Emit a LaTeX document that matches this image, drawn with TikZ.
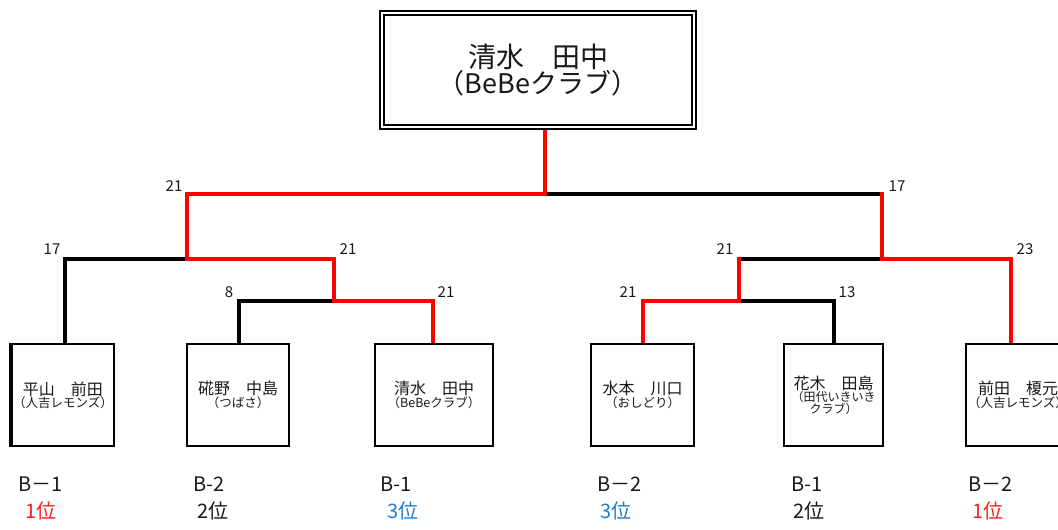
\documentclass[tikz,border=0pt]{standalone}
\usepackage{fontspec}
\setmainfont{Noto Sans CJK JP}
\usetikzlibrary{backgrounds}
\definecolor{winred}{RGB}{255,0,0}
\definecolor{rankred}{RGB}{255,30,30}
\definecolor{rankblue}{RGB}{30,125,210}
\definecolor{txt}{RGB}{25,25,25}
\tikzset{
  bracket/.style={line width=3.2pt, line join=miter, line cap=rect},
  winline/.style={bracket, draw=winred},
  loseline/.style={bracket, draw=black},
  teambox/.style={draw=black, line width=2.2pt, fill=white, inner sep=0pt, minimum height=102pt, text=txt, align=center},
  champbox/.style={draw=black, double=white, line width=1.8pt, double distance=1.8pt, fill=white, minimum width=312pt, minimum height=114pt, inner sep=0pt, text=txt, align=center},
  score/.style={font=\fontsize{15}{17}\selectfont, text=txt, inner sep=0pt},
  grp/.style={font=\fontsize{20}{22}\selectfont, text=txt, anchor=west, inner sep=0pt},
  rank/.style={font=\fontsize{20}{22}\selectfont, anchor=west, inner sep=0pt},
}
\newcommand{\teamtext}[2]{{\fontsize{16}{19}\selectfont #1}\\{\fontsize{12.5}{19}\selectfont #2}}
\begin{document}
\begin{tikzpicture}[x=1pt,y=-1pt]
\useasboundingbox (0,0) rectangle (1058,530);
% champion
\node[champbox] (top) at (538,70) {{\fontsize{28}{32}\selectfont 清水　田中}\\{\fontsize{27}{32}\selectfont （BeBeクラブ）}};
% teams
\node[teambox, minimum width=102pt] (b1) at (63,395) {\teamtext{平山　前田}{（人吉レモンズ）}};
\node[teambox, minimum width=102pt] (b2) at (238,395) {\teamtext{硴野　中島}{（つばさ）}};
\node[teambox, minimum width=118pt] (b3) at (434,395) {\teamtext{清水　田中}{（BeBeクラブ）}};
\node[teambox, minimum width=103pt] (b4) at (642.5,395) {\teamtext{水本　川口}{（おしどり）}};
\node[teambox, minimum width=99pt] (b5) at (833.5,395) {{\fontsize{16}{19}\selectfont 花木　田島}\\{\fontsize{12}{19}\selectfont （田代いきいき}\\{\fontsize{12}{19}\selectfont クラブ）}};
\node[teambox, minimum width=104pt] (b6) at (1018,395) {\teamtext{前田　榎元}{（人吉レモンズ）}};
\draw[line width=3.6pt] (b1.north west) -- (b1.south west);
% junctions
\coordinate (j0) at (545,194);
\coordinate (jL) at (187,194);
\coordinate (jR) at (882,194);
\coordinate (jL1) at (65,259);
\coordinate (jL2) at (334,259);
\coordinate (jR1) at (739,259);
\coordinate (jR2) at (1011,259);
\coordinate (jL2a) at (239,301);
\coordinate (jL2b) at (433,301);
\coordinate (jR1a) at (643,301);
\coordinate (jR1b) at (834,301);
\begin{scope}[on background layer]
% losing lines
\draw[loseline] (j0) -- (jR);
\draw[loseline] (b1.north -| jL1) -- (jL1) -- (jL1 -| jL);
\draw[loseline] (b2.north -| jL2a) -- (jL2a) -- (jL2a -| jL2);
\draw[loseline] (jR1) -- (jR1 -| jR);
\draw[loseline] (jR1a -| jR1) -- (jR1b) -- (b5.north -| jR1b);
% winning lines
\draw[winline] (top.south -| j0) -- (j0) -- (jL) -- (jL |- jL2) -- (jL2) -- (jL2 |- jL2b) -- (jL2b) -- (b3.north -| jL2b);
\draw[winline] (jR) -- (jR |- jR2) -- (jR2) -- (b6.north -| jR2);
\draw[winline] (jR1) -- (jR1 |- jR1a) -- (jR1a) -- (b4.north -| jR1a);
\end{scope}
% scores
\node[score] (s1) at (174,186) {21};
\node[score] (s2) at (897,186) {17};
\node[score] (s3) at (52,249) {17};
\node[score] (s4) at (348,249) {21};
\node[score] (s5) at (229,292) {8};
\node[score] (s6) at (446,292) {21};
\node[score] (s7) at (725,249) {21};
\node[score] (s8) at (1025,249) {23};
\node[score] (s9) at (628,292) {21};
\node[score] (s10) at (847,292) {13};
% groups and ranks
\node[grp] (g1) at (18,484) {B－1};
\node[grp] (g2) at (193,484) {B-2};
\node[grp] (g3) at (380,484) {B-1};
\node[grp] (g4) at (597,484) {B－2};
\node[grp] (g5) at (791,484) {B-1};
\node[grp] (g6) at (968,484) {B－2};
\node[rank, text=rankred] (r1) at (25,511) {1位};
\node[rank, text=txt] (r2) at (197,511) {2位};
\node[rank, text=rankblue] (r3) at (387,511) {3位};
\node[rank, text=rankblue] (r4) at (600,511) {3位};
\node[rank, text=txt] (r5) at (793,511) {2位};
\node[rank, text=rankred] (r6) at (972,511) {1位};
\end{tikzpicture}
\end{document}
